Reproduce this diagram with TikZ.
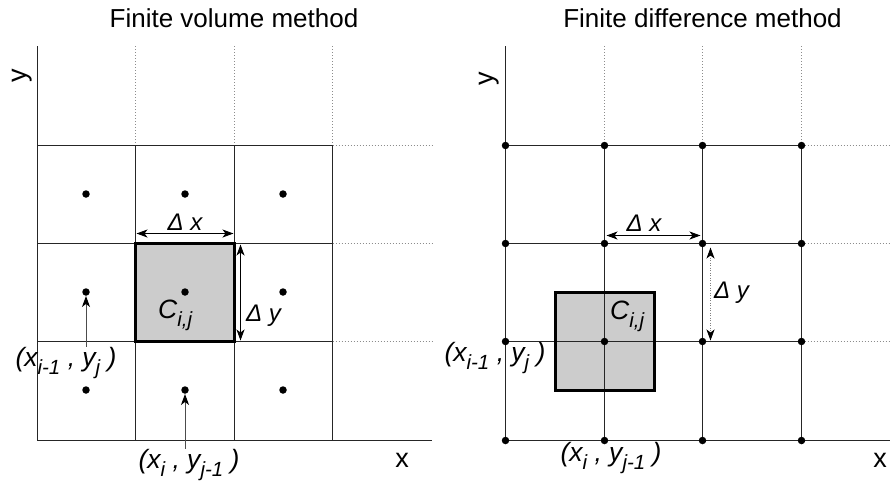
\documentclass[tikz,border=0pt]{standalone}
\usepackage{fontspec}
\setmainfont{Liberation Sans}
\usetikzlibrary{arrows.meta}
\newcommand{\sbs}[1]{\raisebox{-0.33em}{\fontsize{20.5}{20.5}\selectfont #1}}
\tikzset{
  gridline/.style={line width=1pt, draw=black!85},
  dotline/.style={line width=0.8pt, draw=black!45, dash pattern=on 0.8pt off 2.2pt},
  cellfill/.style={fill=black!20},
  cellborder/.style={line width=2.3pt, draw=black},
  gdot/.style={circle, fill=black, inner sep=0pt, minimum size=7.5pt},
  titletext/.style={font=\fontsize{26}{26}\selectfont, inner sep=0pt, anchor=base},
  axistext/.style={font=\fontsize{27}{27}\selectfont, inner sep=0pt},
  labtext/.style={font=\fontsize{26.5}{26.5}\selectfont\itshape, inner sep=0pt},
  deltext/.style={font=\fontsize{24}{24}\selectfont\itshape, inner sep=0pt},
  ptr/.style={line width=1pt, draw=black!70, -{Stealth[length=11pt,width=8pt,inset=3pt,color=black]}},
  dimarrow/.style={line width=1pt, {Stealth[length=11pt,width=8pt,inset=3pt]}-{Stealth[length=11pt,width=8pt,inset=3pt]}},
}
\begin{document}
\begin{tikzpicture}[x=1pt,y=-1pt]
\useasboundingbox (0,0) rectangle (890,483);
% ---------------- titles ----------------
\node[titletext] (t1) at (234,27) {Finite volume method};
\node[titletext] (t2) at (702.5,27) {Finite difference method};
% ================= LEFT: finite volume =================
\fill[cellfill] (135.5,243.5) rectangle (234.5,341.5);
\foreach \x in {135.5,234.5,332.5}{
  \draw[dotline] (\x,46) -- (\x,145.5);
  \draw[gridline] (\x,145.5) -- (\x,440.5);
}
\foreach \y in {145.5,243.5,341.5}{
  \draw[gridline] (37.5,\y) -- (332.5,\y);
  \draw[dotline] (332.5,\y) -- (432,\y);
}
\draw[gridline] (37.5,46) -- (37.5,440.5) -- (432,440.5);
\draw[cellborder] (135.5,243.5) rectangle (234.5,341.5);
% cell centre dots
\node[gdot] (v11) at (86,194) {};
\node[gdot] (v21) at (185,194) {};
\node[gdot] (v31) at (283,194) {};
\node[gdot] (v12) at (86,292) {};
\node[gdot] (v22) at (185,292) {};
\node[gdot] (v32) at (283,292) {};
\node[gdot] (v13) at (86,390) {};
\node[gdot] (v23) at (185,390) {};
\node[gdot] (v33) at (283,390) {};
% axis labels
\node[axistext, anchor=base] (vx) at (402,467) {x};
\node[axistext, rotate=90] (vy) at (22,75.5) {y};
% labels
\node[labtext, anchor=base west] (vC) at (158,318) {C\sbs{i,j}};
\node[labtext, anchor=base] (vp1) at (66,366) {(x\sbs{i-1} , y\sbs{j} )};
\node[labtext, anchor=base] (vp2) at (189,468) {(x\sbs{i} , y\sbs{j-1} )};
\draw[ptr] (v12 |- vp1.north) -- (v12);
\draw[ptr] (v23 |- vp2.north) -- (v23);
% dimension arrows
\coordinate (vdxa) at (136.5,233.5);
\coordinate (vdxb) at (233.5,233.5);
\coordinate (vdya) at (240.5,244.5);
\coordinate (vdyb) at (240.5,340.5);
\draw[dimarrow] (vdxa) -- (vdxb);
\draw[dimarrow] (vdya) -- (vdyb);
\node[deltext, anchor=base] (vdx) at (185,230) {Δ x};
\node[deltext, anchor=base west] (vdy) at (246,321) {Δ y};
% ================= RIGHT: finite difference =================
\fill[cellfill] (555.5,292.5) rectangle (654.5,390.5);
\foreach \x in {604.5,702.5,801.5}{
  \draw[dotline] (\x,46) -- (\x,145.5);
  \draw[gridline] (\x,145.5) -- (\x,440.5);
}
\foreach \y in {145.5,243.5,341.5}{
  \draw[gridline] (505.5,\y) -- (801.5,\y);
  \draw[dotline] (801.5,\y) -- (890,\y);
}
\draw[gridline] (505.5,46) -- (505.5,440.5) -- (890,440.5);
\draw[cellborder] (555.5,292.5) rectangle (654.5,390.5);
% grid point dots
\foreach \x/\i in {505.5/1,604.5/2,702.5/3,801.5/4}{
  \foreach \y/\j in {145.5/1,243.5/2,341.5/3,440.5/4}{
    \node[gdot] (d\i\j) at (\x,\y) {};
  }
}
% axis labels
\node[axistext, anchor=base] (dx) at (880,467) {x};
\node[axistext, rotate=90] (dy) at (489,78.5) {y};
% labels
\node[labtext, anchor=base west] (dC) at (610,319) {C\sbs{i,j}};
\node[labtext, anchor=base] (dp1) at (495,361) {(x\sbs{i-1} , y\sbs{j} )};
\node[labtext, anchor=base] (dp2) at (611,461) {(x\sbs{i} , y\sbs{j-1} )};
% dimension arrows
\coordinate (ddxa) at (606.5,235.5);
\coordinate (ddxb) at (700.5,235.5);
\coordinate (ddya) at (710.5,247.5);
\coordinate (ddyb) at (710.5,340.5);
\draw[dimarrow] (ddxa) -- (ddxb);
\draw[line width=1pt, draw=black!50, dash pattern=on 1pt off 1.5pt,
  {Stealth[length=11pt,width=8pt,inset=3pt,color=black]}-{Stealth[length=11pt,width=8pt,inset=3pt,color=black]}] (ddya) -- (ddyb);
\node[deltext, anchor=base] (ddx) at (644,231.5) {Δ x};
\node[deltext, anchor=base west] (ddy) at (714,298) {Δ y};
\end{tikzpicture}
\end{document}
